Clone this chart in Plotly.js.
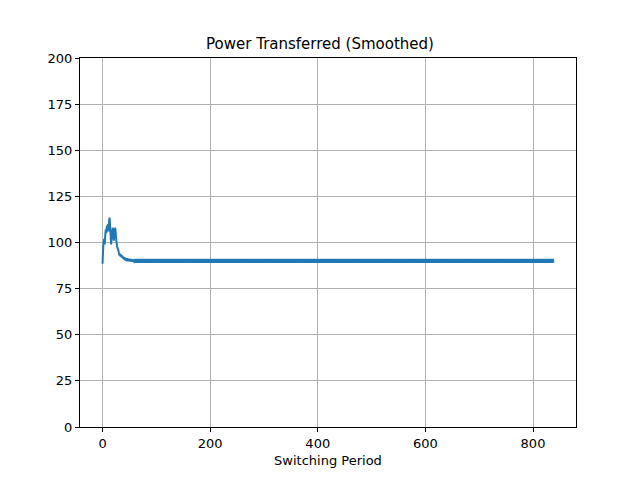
<!DOCTYPE html>
<html>
<head>
<script src="https://cdn.plot.ly/plotly-3.0.1.min.js"></script>
<style>body{margin:0}</style>
</head>
<body>
<div id="plot" style="width:640px;height:480px"></div>
<script>
// early transient (one value per switching period)
const startValues = [88.5, 96, 100, 102, 99, 104, 107, 105, 109, 108, 110, 106, 111, 113.5, 109, 104, 99, 103, 106, 108, 104, 101, 105, 108, 107, 103, 100, 98, 97, 96,
  95, 93, 94, 92.5, 93.5, 92, 93, 91.5, 92.5, 91, 92, 90.5, 91.8, 90.2, 91.5, 89.8, 91.5, 90, 91.2, 89.8, 91.2, 89.7, 91, 89.8, 91, 89.6, 90.9, 89.6, 90.8, 89.5];
// steady-state ripple cycle seen as the thick band after ~60
const rippleCycle = [89.0, 91.1, 89.1, 91.0];
const totalPeriods = 839;

const y = startValues.slice();
while (y.length < totalPeriods) y.push(rippleCycle[y.length % rippleCycle.length]);
const x = y.map((_, i) => i);

const axisCommon = {
  showline: true, mirror: true, linecolor: "black", linewidth: 1,
  ticks: "outside", ticklen: 4, tickcolor: "black",
  showgrid: true, gridcolor: "#b0b0b0", gridwidth: 1, zeroline: false,
  tickfont: {size: 13, color: "black"}
};

Plotly.newPlot("plot", [{
  x: x, y: y, type: "scatter", mode: "lines",
  line: {color: "#1f77b4", width: 2, simplify: false}
}], {
  width: 640, height: 480,
  margin: {l: 80, r: 64, t: 58, b: 53},
  paper_bgcolor: "white", plot_bgcolor: "white",
  font: {family: "DejaVu Sans", color: "black"},
  title: {text: "Power Transferred (Smoothed)", font: {size: 15}, x: 0.5, y: 0.897, yanchor: "bottom"},
  xaxis: Object.assign({}, axisCommon, {range: [-41.9, 879.9], dtick: 200,
    title: {text: "Switching Period", font: {size: 13}, standoff: 6}}),
  yaxis: Object.assign({}, axisCommon, {range: [0, 200], dtick: 25})
}, {displayModeBar: false});
</script>
</body>
</html>
